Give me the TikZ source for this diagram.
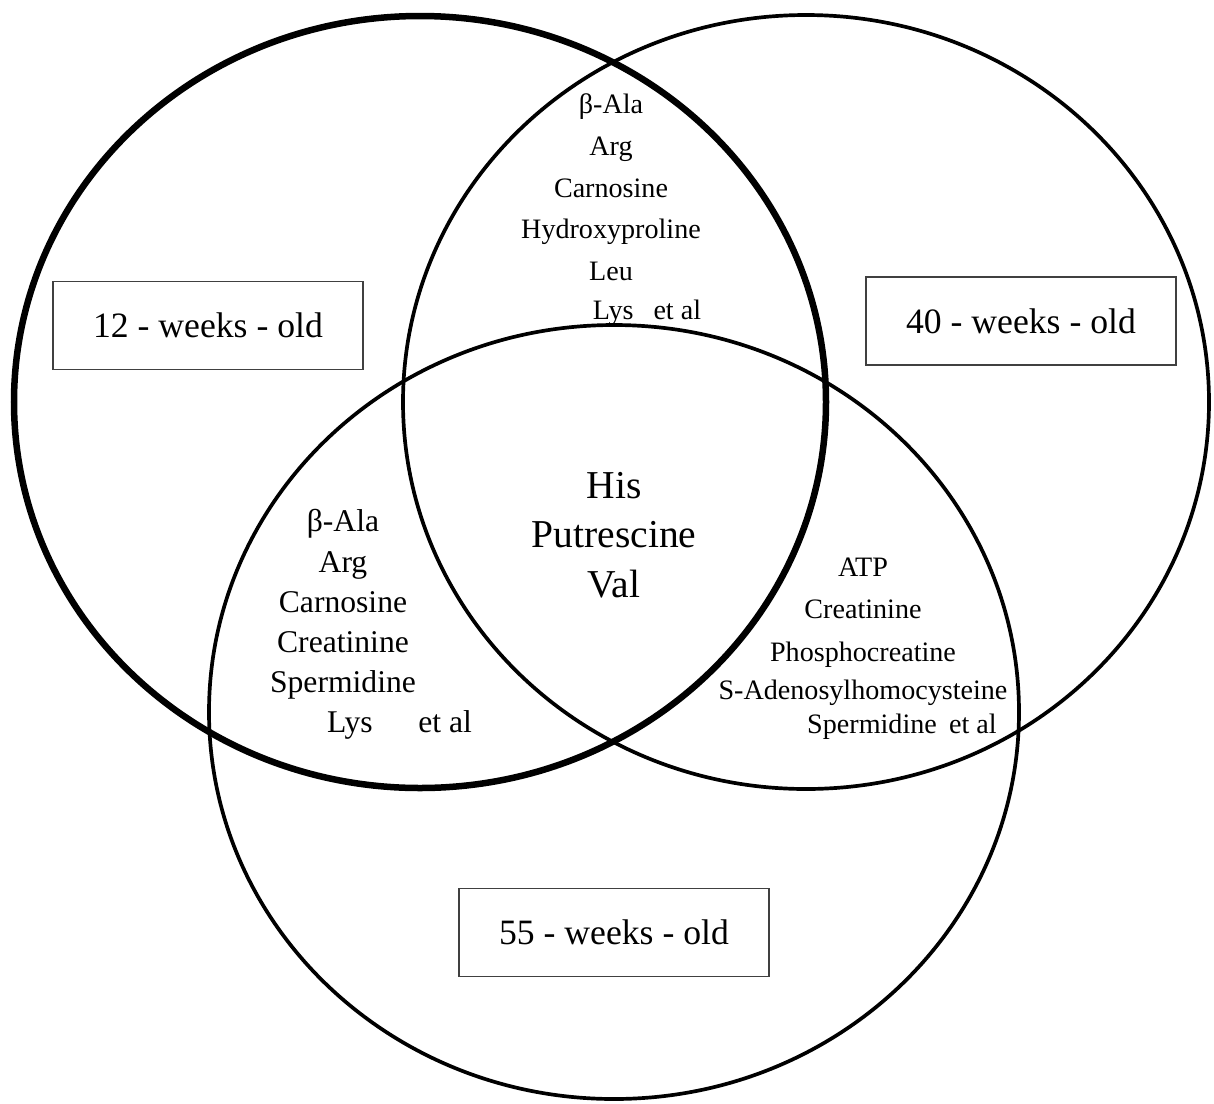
\documentclass[tikz,border=0pt]{standalone}
\usepackage{fontspec}
\setmainfont{Liberation Serif}
\usetikzlibrary{positioning}

\begin{document}
\begin{tikzpicture}[x=0.02cm,y=-0.02cm,node distance=0.836cm,
  ring/.style={line width=2.1pt},
  agebox/.style={draw=black!75, line width=0.8pt, minimum width=6.2cm, minimum height=1.76cm,
    font=\fontsize{20.3}{24}\selectfont},
  item/.style={inner sep=0pt, text height=11pt, text depth=3.5pt, font=\fontsize{16}{19}\selectfont},
  bigitem/.style={inner sep=0pt, text height=12.5pt, text depth=4pt, font=\fontsize{18}{21}\selectfont},
  core/.style={inner sep=0pt, text height=15.5pt, text depth=5pt, font=\fontsize{22.5}{27}\selectfont}]

  \useasboundingbox (0,0) rectangle (1214,1103);

  % the three groups
  \draw[ring, line width=3.7pt] (420,402) ellipse [x radius=406, y radius=386];
  \draw[ring] (806,402) ellipse [x radius=403, y radius=387];
  \draw[ring] (614,712) ellipse [x radius=405, y radius=387];

  \node[agebox] (w12) at (208,325.5) {12 - weeks - old};
  \node[agebox] (w40) at (1021,321) {40 - weeks - old};
  \node[agebox] (w55) at (614,932.5) {55 - weeks - old};

  % 12 and 40 weeks
  \node[item] (t1) at (611,107) {β-Ala};
  \node[item] (t2) [below of=t1] {Arg};
  \node[item] (t3) [below of=t2] {Carnosine};
  \node[item] (t4) [below of=t3] {Hydroxyproline};
  \node[item] (t5) [below of=t4] {Leu};
  \node[item] (t6) [below of=t5, node distance=0.78cm, xshift=0.72cm] {Lys\hspace{11.4pt}et al};

  % 12 and 55 weeks
  \node[bigitem] (l1) at (343,524.5) {β-Ala};
  \node[bigitem] (l2) [below of=l1, node distance=0.805cm] {Arg};
  \node[bigitem] (l3) [below of=l2, node distance=0.805cm] {Carnosine};
  \node[bigitem] (l4) [below of=l3, node distance=0.805cm] {Creatinine};
  \node[bigitem] (l5) [below of=l4, node distance=0.805cm] {Spermidine};
  \node[bigitem] (l6) [below of=l5, node distance=0.8cm, xshift=1.13cm] {Lys\hspace{26pt}et al};

  % 40 and 55 weeks
  \node[item] (r1) at (863,569.4) {ATP};
  \node[item] (r2) [below of=r1, node distance=0.86cm] {Creatinine};
  \node[item] (r3) [below of=r2, node distance=0.86cm] {Phosphocreatine};
  \node[item] (r4) [below of=r3, node distance=0.76cm] {S-Adenosylhomocysteine};
  \node[item] (r5) [below of=r4, node distance=0.68cm, xshift=0.78cm] {Spermidine\hspace{7pt}et al};

  % all three
  \node[core] (c1) at (614,488.8) {His};
  \node[core] (c2) [below of=c1, node distance=0.99cm] {Putrescine};
  \node[core] (c3) [below of=c2, node distance=0.99cm] {Val};

\end{tikzpicture}
\end{document}
